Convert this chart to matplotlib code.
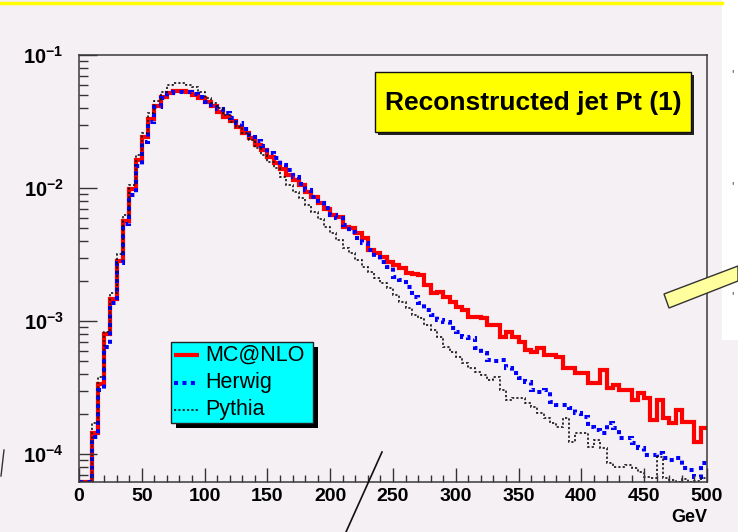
import numpy as np
import matplotlib.pyplot as plt
from matplotlib.patches import Rectangle, Polygon
from matplotlib.lines import Line2D
from matplotlib.ticker import MultipleLocator, LogLocator, NullFormatter, FuncFormatter

plt.rcParams['font.family'] = ['Liberation Sans', 'DejaVu Sans']
plt.rcParams['mathtext.fontset'] = 'custom'
plt.rcParams['mathtext.bf'] = 'Liberation Sans:bold'
plt.rcParams['mathtext.rm'] = 'Liberation Sans:bold'

# 5 GeV bins from 0 to 500 GeV
edges = np.arange(0, 505, 5)

mcnlo = [0, 0, 1.44e-4, 3.36e-4, 7.98e-4, 1.46e-3, 2.82e-3, 5.65e-3, 9.82e-3, 1.63e-2,
         2.42e-2, 3.30e-2, 4.14e-2, 4.83e-2, 5.18e-2, 5.32e-2, 5.32e-2, 5.25e-2, 5.00e-2, 4.72e-2,
         4.45e-2, 4.14e-2, 3.75e-2, 3.44e-2, 3.19e-2, 2.89e-2, 2.58e-2, 2.37e-2, 2.11e-2, 1.93e-2,
         1.70e-2, 1.53e-2, 1.38e-2, 1.25e-2, 1.15e-2, 1.05e-2, 9.38e-3, 8.51e-3, 7.75e-3, 6.95e-3,
         6.27e-3, 6.05e-3, 5.09e-3, 5.00e-3, 4.59e-3, 4.21e-3, 3.42e-3, 3.24e-3, 3.03e-3, 2.78e-3,
         2.64e-3, 2.50e-3, 2.30e-3, 2.25e-3, 2.22e-3, 1.87e-3, 1.62e-3, 1.65e-3, 1.51e-3, 1.39e-3,
         1.27e-3, 1.21e-3, 1.07e-3, 1.07e-3, 1.05e-3, 9.33e-4, 9.33e-4, 7.59e-4, 8.26e-4, 7.59e-4,
         6.95e-4, 6.05e-4, 5.85e-4, 6.27e-4, 5.55e-4, 5.55e-4, 5.36e-4, 4.43e-4, 4.43e-4, 4.06e-4,
         4.06e-4, 3.42e-4, 3.42e-4, 4.28e-4, 3.13e-4, 3.30e-4, 3.03e-4, 3.03e-4, 2.55e-4, 2.88e-4,
         2.64e-4, 1.80e-4, 2.55e-4, 1.87e-4, 1.71e-4, 2.14e-4, 1.74e-4, 1.74e-4, 1.23e-4, 1.57e-4]

herwig = [0, 0, 1.34e-4, 3.03e-4, 6.38e-4, 1.37e-3, 2.73e-3, 5.36e-3, 8.86e-3, 1.46e-2,
          2.22e-2, 3.13e-2, 4.06e-2, 4.72e-2, 5.15e-2, 5.30e-2, 5.30e-2, 5.25e-2, 5.09e-2, 4.86e-2,
          4.45e-2, 4.21e-2, 3.91e-2, 3.65e-2, 3.34e-2, 3.06e-2, 2.76e-2, 2.50e-2, 2.27e-2, 2.07e-2,
          1.84e-2, 1.67e-2, 1.49e-2, 1.36e-2, 1.22e-2, 1.08e-2, 9.66e-3, 8.61e-3, 7.75e-3, 7.08e-3,
          6.27e-3, 5.95e-3, 5.27e-3, 4.67e-3, 4.21e-3, 3.85e-3, 3.42e-3, 3.03e-3, 2.78e-3, 2.55e-3,
          2.14e-3, 2.03e-3, 1.80e-3, 1.51e-3, 1.37e-3, 1.21e-3, 1.11e-3, 1.02e-3, 9.82e-4, 8.86e-4,
          8.26e-4, 7.59e-4, 7.45e-4, 6.27e-4, 5.74e-4, 5.09e-4, 5.00e-4, 5.09e-4, 4.43e-4, 4.06e-4,
          3.73e-4, 3.48e-4, 3.03e-4, 2.92e-4, 3.03e-4, 2.46e-4, 2.33e-4, 2.33e-4, 2.22e-4, 2.03e-4,
          1.90e-4, 1.60e-4, 1.51e-4, 1.44e-4, 1.71e-4, 1.57e-4, 1.32e-4, 1.32e-4, 1.21e-4, 1.11e-4,
          9.82e-5, 9.82e-5, 1.02e-4, 9.33e-5, 9.02e-5, 9.33e-5, 7.85e-5, 7.59e-5, 6.71e-5, 8.55e-5]

pythia = [0, 0, 1.71e-4, 3.79e-4, 8.26e-4, 1.62e-3, 3.19e-3, 6.27e-3, 1.05e-2, 1.77e-2,
          2.59e-2, 3.66e-2, 4.51e-2, 5.30e-2, 5.94e-2, 6.12e-2, 6.12e-2, 5.94e-2, 5.71e-2, 5.30e-2,
          4.72e-2, 4.34e-2, 3.97e-2, 3.54e-2, 3.15e-2, 2.86e-2, 2.58e-2, 2.30e-2, 1.99e-2, 1.77e-2,
          1.58e-2, 1.41e-2, 1.22e-2, 1.05e-2, 9.38e-3, 8.37e-3, 7.45e-3, 6.61e-3, 5.85e-3, 5.09e-3,
          4.59e-3, 4.06e-3, 3.54e-3, 3.24e-3, 2.88e-3, 2.55e-3, 2.33e-3, 2.11e-3, 1.93e-3, 1.77e-3,
          1.57e-3, 1.39e-3, 1.25e-3, 1.11e-3, 1.05e-3, 9.33e-4, 8.55e-4, 7.59e-4, 6.38e-4, 5.85e-4,
          5.36e-4, 4.83e-4, 4.43e-4, 4.14e-4, 3.93e-4, 3.60e-4, 3.79e-4, 3.03e-4, 2.55e-4, 2.64e-4,
          2.64e-4, 2.42e-4, 2.25e-4, 2.03e-4, 1.87e-4, 1.71e-4, 1.60e-4, 1.87e-4, 1.23e-4, 1.44e-4,
          1.44e-4, 1.13e-4, 1.27e-4, 1.11e-4, 8.55e-5, 7.98e-5, 7.98e-5, 8.26e-5, 7.85e-5, 7.33e-5,
          6.71e-5, 6.61e-5, 9.48e-5, 6.61e-5, 6.4e-5, 0, 6.5e-5, 0, 6.3e-5, 6.6e-5]

labels = ['MC@NLO', 'Herwig', 'Pythia']
title = 'Reconstructed jet Pt (1)'

bg = '#f4f0f3'
ymin, ymax = 10 ** -4.21, 0.1
W, H = 738, 532

def fx(x):
    return x / W

def fy(y):
    return 1 - y / H

fig = plt.figure(figsize=(7.38, 5.32), dpi=100, facecolor=bg)

# slide leftovers around the plot
fig.add_artist(Rectangle((fx(722), fy(340)), 1 - fx(722), fy(0) - fy(340), facecolor='white', edgecolor='none'))
fig.add_artist(Line2D([0, fx(722)], [fy(3), fy(3)], color='#ffff00', lw=2.5))

ax = fig.add_axes([fx(79), fy(482), (707 - 79) / W, (482 - 55) / H])
ax.set_facecolor(bg)

styles = [dict(color='#ff0000', lw=3.0, linestyle='-'),
          dict(color='#0000ff', lw=2.9, linestyle=(0, (1.0, 1.1))),
          dict(color='#111111', lw=1.2, linestyle=(0, (1.3, 1.3)))]

for vals, st in zip([mcnlo, herwig, pythia], styles):
    v = np.maximum(np.array(vals), ymin)
    ax.stairs(v, edges, baseline=None, joinstyle='miter', capstyle='butt', **st)

ax.set_xlim(0, 500)
ax.set_yscale('log')
ax.set_ylim(ymin, ymax)

ax.xaxis.set_major_locator(MultipleLocator(50))
ax.xaxis.set_minor_locator(MultipleLocator(10))
ax.yaxis.set_major_locator(LogLocator(base=10))
ax.yaxis.set_minor_locator(LogLocator(base=10, subs=range(2, 10)))
ax.yaxis.set_minor_formatter(NullFormatter())
ax.yaxis.set_major_formatter(FuncFormatter(lambda v, p: r'$\mathbf{10^{%d}}$' % round(np.log10(v))))

tc = '#333333'
ax.tick_params(axis='both', which='both', direction='in', top=False, right=False, color=tc, width=1.0)
ax.tick_params(axis='x', which='major', length=10, pad=4, labelsize=14)
ax.tick_params(axis='x', which='minor', length=5)
ax.tick_params(axis='y', which='major', length=13, pad=11, labelsize=14.5)
ax.tick_params(axis='y', which='minor', length=6.5)
for lab in ax.get_xticklabels():
    lab.set_fontweight('bold')
for sp in ax.spines.values():
    sp.set_color('#3a3a3a')
    sp.set_linewidth(1.1)

ax.set_xlabel('GeV', loc='right', fontsize=13, fontweight='bold', labelpad=3)

# title box with shadow
fig.add_artist(Rectangle((fx(378), fy(135)), fx(691) - fx(375), fy(72) - fy(132), facecolor='#222222', edgecolor='none'))
fig.add_artist(Rectangle((fx(375), fy(132)), fx(691) - fx(375), fy(72) - fy(132), facecolor='#ffff00', edgecolor='#111111', lw=1))
fig.text(fx(533), fy(103), title, fontsize=19, fontweight='bold', ha='center', va='center')

# legend box with shadow
fig.add_artist(Rectangle((fx(176), fy(428)), fx(313) - fx(171), fy(342) - fy(423), facecolor='black', edgecolor='none'))
fig.add_artist(Rectangle((fx(171), fy(423)), fx(313) - fx(171), fy(342) - fy(423), facecolor='#00ffff', edgecolor='#222222', lw=1))
for k, (lab, st) in enumerate(zip(labels, styles)):
    yy = 355 + 27.5 * k
    fig.add_artist(Line2D([fx(174), fx(199)], [fy(yy), fy(yy)], solid_capstyle='butt', dash_capstyle='butt', **st))
    fig.text(fx(205), fy(yy), lab, fontsize=15.5, ha='left', va='center')

# yellow slanted bar and stray lines from the slide
fig.add_artist(Polygon([(fx(664), fy(294)), (fx(738), fy(266)), (fx(738), fy(281)), (fx(669), fy(308))],
                       closed=True, facecolor='#ffff9e', edgecolor='#333333', lw=1))
fig.add_artist(Line2D([fx(382), fx(346)], [fy(452), fy(532)], color='#111111', lw=1.2))
fig.add_artist(Line2D([fx(4), fx(1)], [fy(450), fy(476)], color='#333333', lw=1))
for yb in [75, 187, 297]:
    fig.text(fx(732), fy(yb), "'", fontsize=9, color='#555555', ha='center', va='center')

fig.savefig('out.png', dpi=100, facecolor=bg)
